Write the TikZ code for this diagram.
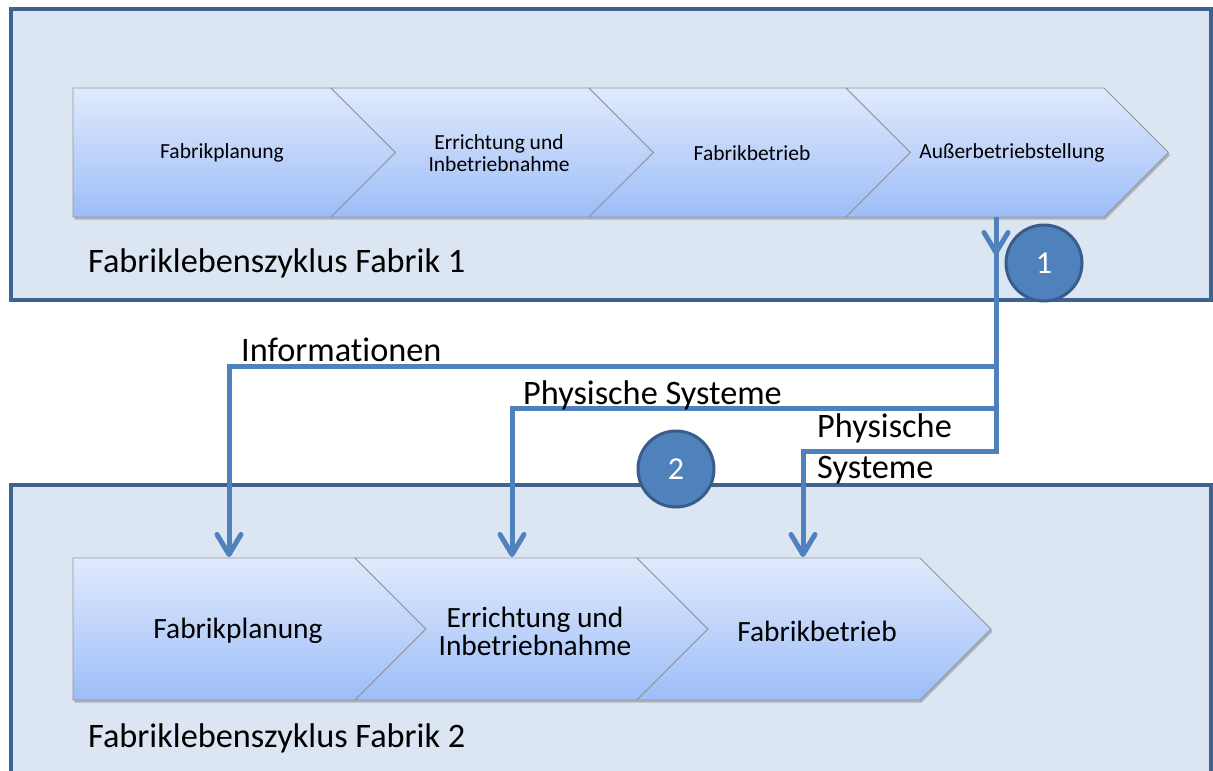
\documentclass[tikz,border=0pt]{standalone}
\usepackage{fontspec}
\setmainfont{Carlito}[Ligatures={NoCommon}]
\usetikzlibrary{arrows.meta}
\definecolor{boxfill}{HTML}{DCE6F2}
\definecolor{boxline}{HTML}{3F6290}
\definecolor{flowc}{HTML}{4F81BD}
\definecolor{circline}{HTML}{385D8A}
\definecolor{chevtop}{HTML}{E0EAFC}
\definecolor{chevbot}{HTML}{9DBDF8}
\definecolor{chevline}{HTML}{8E959D}
% #1 style, #2 x, #3 y0, #4 body width, #5 height, #6 tip depth
\newcommand\homeplateshape[6]{\path[#1] (#2,#3) -- ++(#4,0) -- ++(#6,#5/2) -- ++(-#6,#5/2) -- ++(-#4,0) -- cycle;}
\newcommand\chevronshape[6]{\path[#1] (#2,#3) -- ++(#4,0) -- ++(#6,#5/2) -- ++(-#6,#5/2) -- ++(-#4,0) -- ++(#6,-#5/2) -- cycle;}
\begin{document}
\begin{tikzpicture}[x=1pt,y=-1pt,
  lifebox/.style={draw=boxline, line width=3.5pt, fill=boxfill},
  chev/.style={top color=chevtop, bottom color=chevbot, draw=chevline, line width=0.9pt, line join=miter},
  chevshadow/.style={fill=black, opacity=0.22, xshift=1.5pt, yshift=-2.5pt},
  flowline/.style={draw=flowc, line width=5pt, line join=miter},
  flowarrow/.style={flowline, -{Straight Barb[length=20pt, width=24pt, line join=round, line cap=round]}},
  num/.style={circle, fill=flowc, draw=circline, line width=3pt, minimum size=76pt, inner sep=0pt, text=white, font=\fontsize{32}{38}\selectfont},
  smalltxt/.style={align=center, inner sep=0pt, font=\fontsize{21.5}{22}\selectfont},
  midtxt/.style={align=center, inner sep=0pt, font=\fontsize{29.4}{28}\selectfont},
  bigtxt/.style={align=left, inner sep=0pt, font=\fontsize{34.3}{41}\selectfont}
]
\useasboundingbox (0,0) rectangle (1213,771);
\clip (0,0) rectangle (1213,771);
\fill[white] (0,0) rectangle (1213,771);

% life cycle frames
\path[lifebox] (11,9) rectangle (1211,300);
\path[lifebox] (11,485) rectangle (1211,800);

% top row chevrons
\homeplateshape{chevshadow}{73}{88}{258}{129}{64.5}
\chevronshape{chevshadow}{331}{88}{258}{129}{64.5}
\chevronshape{chevshadow}{589}{88}{257}{129}{64.5}
\chevronshape{chevshadow}{846}{88}{258}{129}{64.5}
\homeplateshape{chev}{73}{88}{258}{129}{64.5}
\chevronshape{chev}{331}{88}{258}{129}{64.5}
\chevronshape{chev}{589}{88}{257}{129}{64.5}
\chevronshape{chev}{846}{88}{258}{129}{64.5}

% bottom row chevrons
\homeplateshape{chevshadow}{73}{558}{282}{142}{71}
\chevronshape{chevshadow}{355}{558}{282}{142}{71}
\chevronshape{chevshadow}{637}{558}{283}{142}{71}
\homeplateshape{chev}{73}{558}{282}{142}{71}
\chevronshape{chev}{355}{558}{282}{142}{71}
\chevronshape{chev}{637}{558}{283}{142}{71}

% chevron texts
\node[smalltxt] (t1) at (222,153) {Fabrikplanung};
\node[smalltxt] (t2) at (499,153) {Errichtung und\\Inbetriebnahme};
\node[smalltxt] (t3) at (752,153) {Fabrikbetrieb};
\node[smalltxt] (t4) at (1012,153) {Außerbetriebstellung};
\node[midtxt] (b1) at (238,631) {Fabrikplanung};
\node[midtxt] (b2) at (535,631) {Errichtung und\\Inbetriebnahme};
\node[midtxt] (b3) at (817,631) {Fabrikbetrieb};

% frame labels
\node[bigtxt, anchor=base west] (lab1) at (88,272) {Fabriklebenszyklus Fabrik 1};
\node[bigtxt, anchor=base west] (lab2) at (88,747) {Fabriklebenszyklus Fabrik 2};

% connector points
\coordinate (src) at (996,217);
\coordinate (tipA) at (996,255);
\coordinate (jInfo) at (996,366);
\coordinate (jPhys) at (996,408);
\coordinate (jPhysB) at (996,451);
\coordinate (inB1) at (229,557);
\coordinate (inB2) at (512,557);
\coordinate (inB3) at (803,557);

% connectors
\draw[flowarrow] (src) -- (jPhysB) -- (jPhysB -| inB3) -- (inB3);
\draw[flowarrow] (src) -- (tipA);
\draw[flowarrow] (jInfo) -- (jInfo -| inB1) -- (inB1);
\draw[flowarrow] (jPhys) -- (jPhys -| inB2) -- (inB2);

% connector labels
\node[bigtxt, anchor=base west] (info) at (241,361) {Informationen};
\node[bigtxt, anchor=base west] (phys1) at (523,404) {Physische Systeme};
\node[bigtxt, anchor=base west] (phys2) at (817,478) {Physische\\Systeme};

% numbered markers
\node[num] (n1) at (1044,263) {1};
\node[num] (n2) at (676,469) {2};
\end{tikzpicture}
\end{document}
